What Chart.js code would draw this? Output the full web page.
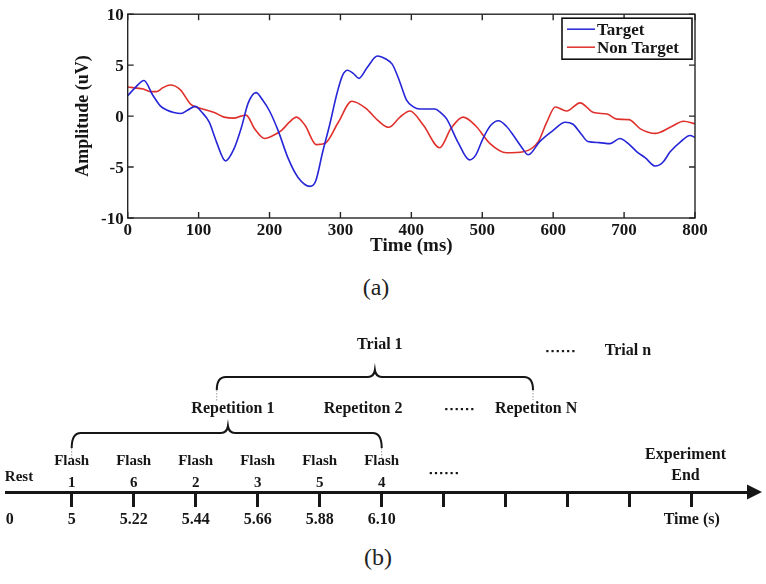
<!DOCTYPE html>
<html>
<head>
<meta charset="utf-8">
<script src="https://cdn.jsdelivr.net/npm/chart.js@4/dist/chart.umd.min.js"></script>
<style>
  body { margin: 0; background: #fff; }
  #wrap { position: relative; width: 766px; height: 584px; overflow: hidden; font-family: "Liberation Serif", serif; }
  #erpChart { position: absolute; left: 0; top: 0; }
  #timeChart { position: absolute; left: 0; top: 330px; }
  .cap { position: absolute; font-size: 24px; color: #222; transform: translate(-50%, -50%); }
</style>
</head>
<body>
<div id="wrap">
  <canvas id="erpChart" width="766" height="262"></canvas>
  <div class="cap" style="left:376px;top:287px">(a)</div>
  <canvas id="timeChart" width="766" height="210"></canvas>
  <div class="cap" style="left:378px;top:557px">(b)</div>
</div>
<script>
// ── (a) averaged ERP ──
const targetTimes = [0, 10, 23, 35, 46, 55, 65, 75, 85, 95, 105, 115, 125, 138, 150, 160, 170, 181, 190, 200,
  212, 226, 240, 257, 265, 275, 285, 295, 303, 310, 318, 326, 338, 352, 364, 373, 383, 393, 403, 412,
  433, 442, 450, 466, 482, 491, 501, 512, 523, 534, 544, 555, 565, 581, 600, 617, 628, 640, 649, 665,
  680, 694, 706, 718, 730, 744, 755, 765, 780, 793, 800];
const targetAmps = [2.0, 2.75, 3.5, 2.1, 1.0, 0.6, 0.35, 0.25, 0.6, 0.95, 0.35, -0.6, -2.5, -4.4, -3.2, -1.2, 1.3, 2.3, 1.6, 0.5,
  -1.4, -4.1, -6.0, -6.9, -6.4, -3.5, -0.8, 2.2, 4.0, 4.5, 4.2, 3.7, 4.8, 5.9, 5.6, 5.1, 3.5, 1.6, 0.9, 0.7,
  0.7, 0.3, -0.3, -2.6, -4.3, -3.8, -2.2, -0.9, -0.45, -1.0, -1.9, -3.0, -3.8, -2.5, -1.4, -0.6, -0.8, -1.8, -2.5, -2.6,
  -2.7, -2.2, -2.7, -3.5, -4.1, -4.9, -4.5, -3.5, -2.5, -1.9, -2.1];

const nonTargetTimes = [0, 22, 32, 41, 50, 60, 74, 89, 103, 122, 136, 150, 160, 167, 179, 193, 205, 217, 228, 238,
  250, 266, 278, 297, 316, 335, 354, 368, 384, 398, 417, 440, 456, 473, 490, 511, 534, 558, 579, 591,
  603, 619, 638, 657, 676, 690, 707, 723, 744, 765, 784, 800];
const nonTargetAmps = [2.85, 2.65, 2.4, 2.4, 2.8, 3.05, 2.6, 1.15, 0.75, 0.35, -0.1, -0.2, 0.0, 0.1, -1.25, -2.2, -1.9, -1.4, -0.6, -0.1,
  -0.9, -2.8, -2.7, -0.6, 1.45, 0.8, -0.5, -1.1, -0.1, 0.5, -0.9, -3.1, -1.2, -0.1, -0.9, -2.7, -3.6, -3.5, -2.5, -0.6,
  0.9, 0.5, 1.3, 0.35, 0.2, -0.3, -0.35, -1.25, -1.7, -1.1, -0.5, -0.75];

// ── (b) stimulus timeline ──
const slotLabels = ['0', '5', '5.22', '5.44', '5.66', '5.88', '6.10', '', '', '', '', 'Time (s)'];
const flashOrder = [1, 6, 2, 3, 5, 4];
const repetitionLabels = ['Repetition 1', 'Repetiton 2', 'Repetiton N'];
const trialLabels = ['Trial 1', 'Trial n'];

const serif = '"Liberation Serif", "Times New Roman", serif';
const ink = '#161616';

function toPoints(xs, ys) {
  return xs.map((x, i) => ({ x: x, y: ys[i] }));
}

// Matlab style box, inward ticks and boxed legend
const matlabFrame = {
  id: 'matlabFrame',
  afterDatasetsDraw(chart) {
    const { ctx, chartArea: { left, right, top, bottom }, scales: { x, y } } = chart;
    ctx.save();
    ctx.strokeStyle = '#262626';
    ctx.lineWidth = 1.4;
    ctx.strokeRect(left, top, right - left, bottom - top);
    ctx.beginPath();
    x.ticks.forEach(t => {
      const px = x.getPixelForValue(t.value);
      ctx.moveTo(px, bottom); ctx.lineTo(px, bottom - 6);
      ctx.moveTo(px, top); ctx.lineTo(px, top + 6);
    });
    y.ticks.forEach(t => {
      const py = y.getPixelForValue(t.value);
      ctx.moveTo(left, py); ctx.lineTo(left + 6, py);
      ctx.moveTo(right, py); ctx.lineTo(right - 6, py);
    });
    ctx.stroke();

    // legend
    const bx = right - 133, by = top + 4, bw = 130, bh = 41;
    ctx.fillStyle = '#fff';
    ctx.fillRect(bx, by, bw, bh);
    ctx.strokeStyle = '#111';
    ctx.lineWidth = 1.6;
    ctx.strokeRect(bx, by, bw, bh);
    ctx.font = 'bold 17px ' + serif;
    ctx.textBaseline = 'middle';
    chart.data.datasets.forEach((ds, i) => {
      const ly = by + 11 + i * 18;
      ctx.strokeStyle = ds.borderColor;
      ctx.lineWidth = 1.5;
      ctx.beginPath(); ctx.moveTo(bx + 5, ly); ctx.lineTo(bx + 33, ly); ctx.stroke();
      ctx.fillStyle = ink;
      ctx.fillText(ds.label, bx + 35, ly + 1);
    });
    ctx.restore();
  }
};

new Chart(document.getElementById('erpChart'), {
  type: 'line',
  data: {
    datasets: [
      { label: 'Target', data: toPoints(targetTimes, targetAmps), borderColor: '#2626d8', borderWidth: 1.6,
        pointRadius: 0, cubicInterpolationMode: 'monotone', fill: false },
      { label: 'Non Target', data: toPoints(nonTargetTimes, nonTargetAmps), borderColor: '#e0302c', borderWidth: 1.6,
        pointRadius: 0, cubicInterpolationMode: 'monotone', fill: false }
    ]
  },
  options: {
    responsive: false,
    animation: false,
    layout: { padding: { top: 9, right: 71, left: 0, bottom: 0 } },
    plugins: { legend: { display: false }, tooltip: { enabled: false } },
    scales: {
      x: {
        type: 'linear', min: 0, max: 800,
        ticks: { stepSize: 100, padding: 2, color: ink, font: { family: serif, size: 17, weight: 'bold' } },
        grid: { display: false, drawTicks: false },
        border: { display: false },
        title: { display: true, text: 'Time (ms)', color: ink, padding: { top: 0, bottom: 5 },
          font: { family: serif, size: 19, weight: 'bold' } },
        afterFit: s => { s.height = 44; }
      },
      y: {
        min: -10, max: 10,
        ticks: { stepSize: 5, padding: 4, labelOffset: 1.5, color: ink, font: { family: serif, size: 17, weight: 'bold' } },
        grid: { display: false, drawTicks: false },
        border: { display: false },
        title: { display: true, text: 'Amplitude (uV)', color: ink, padding: { top: 73, bottom: 0 },
          font: { family: serif, size: 18, weight: 'bold' } },
        afterFit: s => { s.width = 127.7; }
      }
    }
  },
  plugins: [matlabFrame]
});

// curly brace from x1 to x2 with its point at xm
function brace(ctx, x1, x2, xm, yEnd, yTop, yPeak) {
  const r = 9;
  ctx.beginPath();
  ctx.moveTo(x1, yEnd);
  ctx.quadraticCurveTo(x1, yTop, x1 + r, yTop);
  ctx.lineTo(xm - 7, yTop);
  ctx.quadraticCurveTo(xm - 1, yTop, xm, yPeak);
  ctx.quadraticCurveTo(xm + 1, yTop, xm + 7, yTop);
  ctx.lineTo(x2 - r, yTop);
  ctx.quadraticCurveTo(x2, yTop, x2, yEnd);
  ctx.stroke();
}

function dots(ctx, cx, y) {
  for (let i = 0; i < 6; i++) ctx.fillRect(cx - 14 + i * 5.2, y - 1, 2.2, 2.2);
}

function dashed(ctx, x, y1, y2) {
  ctx.save();
  ctx.strokeStyle = '#999';
  ctx.lineWidth = 1;
  ctx.setLineDash([1.5, 1.5]);
  ctx.beginPath(); ctx.moveTo(x, y1); ctx.lineTo(x, y2); ctx.stroke();
  ctx.restore();
}

// annotations of the timeline placed with the x scale
const timeline = {
  id: 'timeline',
  afterDraw(chart) {
    const { ctx, scales: { x } } = chart;
    const base = x.top;
    const px = v => x.getPixelForValue(v);
    ctx.save();
    ctx.fillStyle = ink;
    ctx.strokeStyle = ink;
    ctx.textAlign = 'center';
    ctx.textBaseline = 'middle';

    // arrow head
    const ax = chart.chartArea.right;
    ctx.beginPath();
    ctx.moveTo(ax - 3, base - 7.5);
    ctx.lineTo(ax + 12, base);
    ctx.lineTo(ax - 3, base + 7.5);
    ctx.closePath();
    ctx.fill();

    ctx.font = 'bold 15px ' + serif;
    ctx.fillText('Rest', px(-0.85), base - 15);
    flashOrder.forEach((n, i) => {
      ctx.fillText('Flash', px(i), base - 31);
      ctx.fillText(String(n), px(i), base - 9);
    });
    dots(ctx, px(6.0), base - 19);

    // repetition brace
    ctx.lineWidth = 2;
    brace(ctx, px(0), px(5), px(2.52), base - 44, base - 59, base - 66);
    dashed(ctx, px(0), base - 44, base - 34);
    dashed(ctx, px(5), base - 44, base - 34);

    ctx.font = 'bold 16px ' + serif;
    ctx.fillText(repetitionLabels[0], px(2.6), base - 83);
    ctx.fillText(repetitionLabels[1], px(4.7), base - 83);
    dots(ctx, px(6.25), base - 83);
    ctx.fillText(repetitionLabels[2], px(7.49), base - 83);

    // trial brace
    brace(ctx, px(2.34), px(7.44), px(4.89), base - 102, base - 115, base - 122);
    dashed(ctx, px(2.34), base - 102, base - 90);
    dashed(ctx, px(7.44), base - 102, base - 92);

    ctx.fillText(trialLabels[0], px(4.97), base - 147);
    dots(ctx, px(7.88), base - 141);
    ctx.fillText(trialLabels[1], px(8.97), base - 141);

    ctx.fillText('Experiment', px(9.9), base - 37);
    ctx.fillText('End', px(9.9), base - 16);
    ctx.restore();
  }
};

new Chart(document.getElementById('timeChart'), {
  type: 'scatter',
  data: { datasets: [{ data: [], pointRadius: 0 }] },
  options: {
    responsive: false,
    animation: false,
    layout: { padding: { left: 6.6, right: 16, top: 0, bottom: 0 } },
    plugins: { legend: { display: false }, tooltip: { enabled: false } },
    scales: {
      x: {
        type: 'linear', min: -1.05, max: 10.94,
        afterBuildTicks: s => { s.ticks = slotLabels.map((_, i) => ({ value: i - 1 })); },
        ticks: { autoSkip: false, maxRotation: 0, padding: 3, color: ink,
          font: { family: serif, size: 16, weight: 'bold' },
          callback: (v, i) => slotLabels[i] },
        grid: { drawOnChartArea: false, drawTicks: true, tickLength: 15, tickWidth: 3,
          tickColor: c => (c.index === 0 ? 'rgba(0,0,0,0)' : ink) },
        border: { display: true, width: 3, color: ink },
        afterFit: s => { s.height = 48; }
      },
      y: { display: false, min: 0, max: 1 }
    }
  },
  plugins: [timeline]
});
</script>
</body>
</html>
